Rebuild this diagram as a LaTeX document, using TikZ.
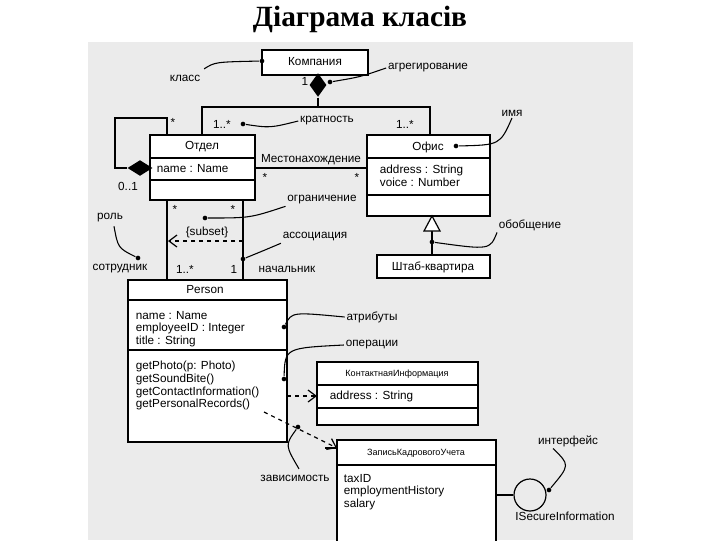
\documentclass[tikz,border=0pt]{standalone}
\usepackage{fontspec}
\setmainfont{Liberation Sans}
\newfontfamily\titlefont{Liberation Serif}
\usetikzlibrary{arrows.meta,shapes.geometric}
\begin{document}
\begin{tikzpicture}[x=0.75pt,y=-0.75pt,line width=0.9pt,
  lbl/.style={font=\fontsize{8.8}{9.6}\selectfont,inner sep=1pt},
  small/.style={font=\fontsize{6.8}{8}\selectfont,inner sep=1pt},
  cls/.style={draw,fill=white},
  note/.style={line width=0.8pt},
  ndot/.style={circle,fill=black,inner sep=0pt,minimum size=3.5pt},
  dep/.style={dashed,-{Straight Barb[length=6pt,width=9pt]}}]
\useasboundingbox (0,0) rectangle (720,540);
\fill[white] (0,0) rectangle (720,540);
\fill[black!8] (88,42) rectangle (633,540);
\node[font=\titlefont\bfseries\fontsize{22}{24}\selectfont] (title) at (360,19) {Діаграма класів};

% Компания
\draw[cls] (262,50) rectangle (368,75);
\node[lbl] (komp) at (315,62) {Компания};
\node[lbl] (one) at (305,81) {1};
\node[diamond,fill=black,inner sep=0pt,minimum width=13pt,minimum height=18pt] (dia) at (318,85) {};
\draw (dia.south) -- (318,107) coordinate (j);
\draw (202,135) -- (202,107) -- (430,107) -- (430,135);

% Отдел
\draw[cls] (150,135) rectangle (255,200);
\draw (150,158) -- (255,158) (150,180) -- (255,180);
\node[lbl] (otdel) at (202,147) {Отдел};
\node[lbl,anchor=west] (oname) at (155,169) {name : Name};
\node[diamond,fill=black,inner sep=0pt,minimum width=19pt,minimum height=12pt] (sdia) at (140,168) {};
\draw (sdia.west) -- (115,168) -- (115,118) -- (167,118) -- (167,135);
\node[lbl] (st1) at (173,122) {*};
\node[lbl] (zo) at (128,186) {0..1};

% Офис
\draw[cls] (367,135) rectangle (490,216);
\draw (367,158) -- (490,158) (367,195) -- (490,195);
\node[lbl] (ofis) at (428,147) {Офис};
\node[lbl,anchor=west,align=left] (oattr) at (378,176) {address : String\\voice : Number};

% Местонахождение
\draw (255,168) -- (367,168);
\node[lbl] (mest) at (311,160) {Местонахождение};
\node[lbl] (st2) at (265,177) {*};
\node[lbl] (st3) at (357,177) {*};

% multiplicities
\node[lbl] (m1) at (222,124) {1..*};
\node[lbl] (m2) at (405,124) {1..*};

% Штаб
\draw[cls] (377,255) rectangle (490,278);
\node[lbl] (shtab) at (433,267) {Штаб-квартира};
\draw (432,255) -- (432,230);
\draw[fill=white] (432,216) -- (424,231) -- (440,231) -- cycle;

% Отдел - Person
\draw (167,200) -- (167,280) (243,200) -- (243,280);
\node[lbl] (st4) at (175,209) {*};
\node[lbl] (st5) at (233,209) {*};
\draw[dep] (243,241) -- (168,241);
\node[lbl] (subset) at (207,232) {\{subset\}};
\node[lbl] (m3) at (185,269) {1..*};
\node[lbl] (m4) at (234,269) {1};
\node[lbl] (sotr) at (120,269) {сотрудник};
\node[lbl] (nach) at (287,269) {начальник};

% Person
\draw[cls] (128,280) rectangle (287,442);
\draw (128,300) -- (287,300) (128,350) -- (287,350);
\node[lbl] (person) at (205,290) {Person};
\node[lbl,anchor=north west,align=left] (pattr) at (134,309) {name : Name\\employeeID : Integer\\title : String};
\node[lbl,anchor=north west,align=left] (pops) at (134,359) {getPhoto(p: Photo)\\getSoundBite()\\getContactInformation()\\getPersonalRecords()};

% Контактная
\draw[cls] (317,362) rectangle (478,425);
\draw (317,385) -- (478,385) (317,408) -- (478,408);
\node[small] (kont) at (397,374) {КонтактнаяИнформация};
\node[lbl,anchor=west] (kaddr) at (328,396) {address : String};
\draw[dep] (287,396) -- (317,396);

% Запись
\draw[cls] (337,440) rectangle (496,545);
\draw (337,465) -- (496,465);
\node[small] (zap) at (416,453) {ЗаписьКадровогоУчета};
\node[lbl,anchor=north west,align=left] (zattr) at (342,472) {taxID\\employmentHistory\\salary};
\draw[dep] (264,412) -- (337,448);
\draw (325,448) -- (337,448);

% interface
\node[circle,draw,minimum size=24pt,inner sep=0pt] (iface) at (530,495) {};
\draw (496,495) -- (iface.west);
\node[lbl] (isec) at (565,516) {ISecureInformation};

% annotations
\node[lbl] (a1) at (185,78) {класс};
\node[ndot] (d1) at (262,61) {};
\draw[note] (a1.north east) ++(2,-4) .. controls (215,62) .. (d1);
\node[lbl] (a2) at (428,68) {агрегирование};
\node[ndot] (d2) at (330,82) {};
\draw[note] (a2.west) .. controls (360,77) .. (d2);
\node[lbl] (a3) at (327,121) {кратность};
\node[ndot] (d3) at (243,124) {};
\draw[note] (a3.west) .. controls (270,128) .. (d3);
\node[lbl] (a4) at (512,113) {имя};
\node[ndot] (d4) at (456,146) {};
\draw[note] (a4.south) .. controls (500,145) .. (d4);
\node[lbl] (a5) at (322,200) {ограничение};
\node[ndot] (d5) at (205,218) {};
\draw[note] (a5.south west) .. controls (250,218) .. (d5);
\node[lbl] (a6) at (315,237) {ассоциация};
\node[ndot] (d6) at (243,259) {};
\draw[note] (a6.south west) .. controls (265,250) .. (d6);
\node[lbl] (a7) at (110,218) {роль};
\node[ndot] (d7) at (138,258) {};
\draw[note] (a7.south) ++(4,2) .. controls (118,248) .. (d7);
\node[lbl] (a8) at (530,225) {обобщение};
\node[ndot] (d8) at (432,242) {};
\draw[note] (a8.south west) .. controls (490,250) .. (d8);
\node[lbl] (a9) at (372,317) {атрибуты};
\node[ndot] (d9) at (284,327) {};
\draw[note] (a9.west) .. controls (292,312) .. (d9);
\node[lbl] (a10) at (372,345) {операции};
\node[ndot] (d10) at (284,379) {};
\draw[note] (a10.west) .. controls (285,348) .. (d10);
\node[lbl] (a11) at (295,478) {зависимость};
\node[ndot] (d11) at (298,427) {};
\draw[note] (a11.north) ++(4,-4) .. controls (285,445) .. (d11);
\node[lbl] (a12) at (568,441) {интерфейс};
\node[ndot] (d12) at (549,490) {};
\draw[note] (a12.south) ++(-15,0) .. controls (570,465) .. (d12);
\end{tikzpicture}
\end{document}
